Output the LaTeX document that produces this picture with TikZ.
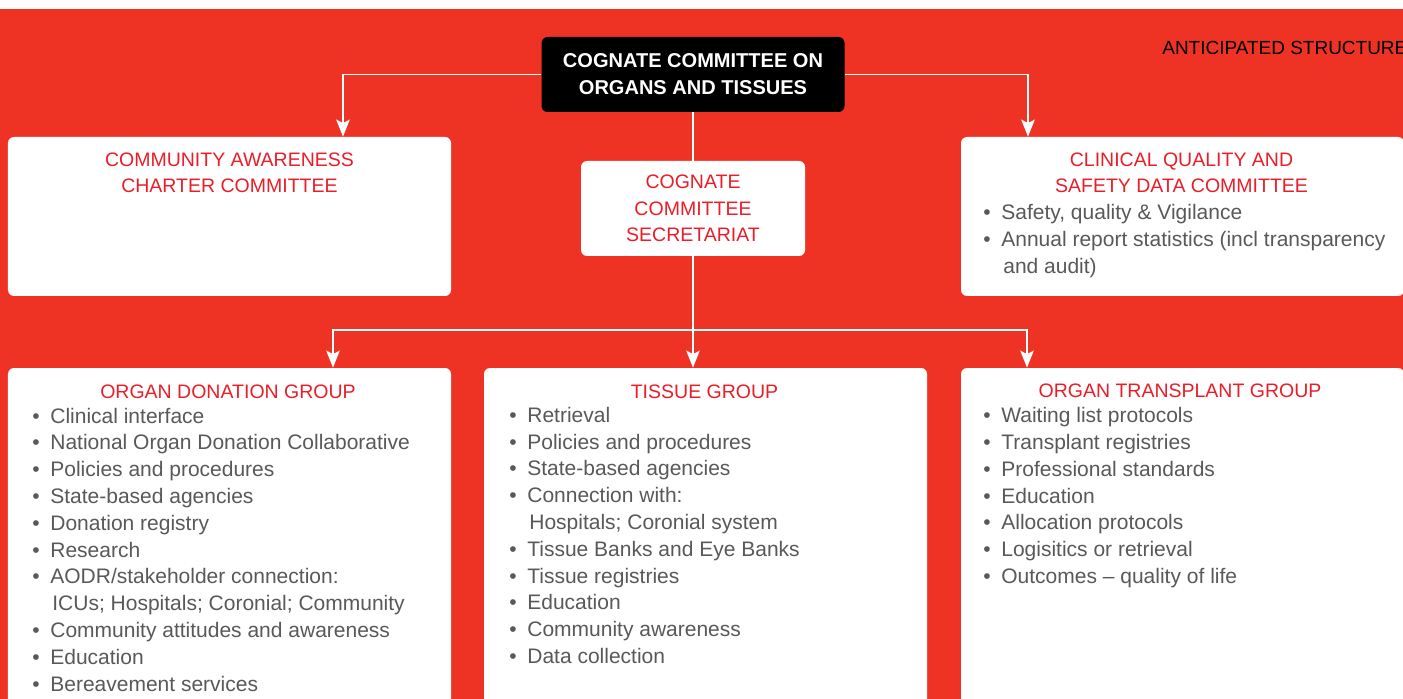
\documentclass[tikz,border=0pt]{standalone}
\usepackage{fontspec}
\setmainfont{Liberation Sans}
\usetikzlibrary{arrows.meta, positioning, calc}
\definecolor{Backdrop}{RGB}{238, 51, 37}
\definecolor{Heading}{RGB}{234, 30, 40}
\definecolor{Body}{RGB}{88, 89, 91}
\newcommand{\itm}{\makebox[0.36cm][l]{\textbullet}}
\newcommand{\cont}{\hspace*{0.40cm}}

\begin{document}
\begin{tikzpicture}[
        panel/.style={rectangle, rounded corners=0.12cm, fill=white, inner sep=0, minimum width=8.86cm},
        heading/.style={anchor=base, align=center, text=Heading, inner sep=0, font=\fontsize{11.1}{14.9}\selectfont},
        items/.style={anchor=base west, align=left, text=Body, inner sep=0, font=\fontsize{11.95}{15.25}\selectfont},
        link/.style={draw=white, line width=1.1pt, -{Stealth[length=0.34cm, width=0.27cm, inset=0.07cm]}},
        plain/.style={draw=white, line width=1.1pt}
    ]
        \useasboundingbox (0,0) rectangle (28.06,-13.98);
        \clip (0,0) rectangle (28.06,-13.98);
        \fill[white] (0,0) rectangle (28.06,-0.18);
        \fill[Backdrop] (0,-0.18) rectangle (28.06,-13.98);

        % base of a text block = baseline of its last line
        \node[anchor=base west, inner sep=0, font=\fontsize{10.8}{13}\selectfont] (note) at (23.24,-1.10) {ANTICIPATED STRUCTURE};

        % Top committee
        \node[fill=black, rounded corners=0.12cm, minimum width=6.06cm, minimum height=1.5cm, align=center, text=white, font=\fontsize{11.4}{15.4}\selectfont\bfseries] (top) at (13.86,-1.49) {COGNATE COMMITTEE ON\\ORGANS AND TISSUES};

        % Second row
        \node[panel, minimum height=3.18cm] (comm) at (4.59,-4.33) {};
        \node[panel, rounded corners=0.12cm, minimum width=4.48cm, minimum height=1.9cm, align=center, text=Heading, font=\fontsize{11.1}{15.1}\selectfont] (sec) at (13.86,-4.17) {COGNATE\\COMMITTEE\\SECRETARIAT};
        \node[panel, minimum height=3.18cm] (clin) at (23.65,-4.33) {};

        \node[heading] (commtitle) at (4.59,-3.86) {COMMUNITY AWARENESS\\CHARTER COMMITTEE};
        \node[heading] (clintitle) at (23.63,-3.86) {CLINICAL QUALITY AND\\SAFETY DATA COMMITTEE};
        \node[items] (clinlist) at (19.66,-5.47) {\itm Safety, quality \& Vigilance\\
            \itm Annual report statistics (incl transparency\\
            \cont and audit)};

        % Groups
        \node[panel, minimum height=7.04cm] (odg) at (4.59,-10.88) {};
        \node[panel, minimum height=7.04cm] (tis) at (14.11,-10.88) {};
        \node[panel, minimum height=7.04cm] (otg) at (23.65,-10.88) {};

        \node[heading] (odgtitle) at (4.56,-7.96) {ORGAN DONATION GROUP};
        \node[items] (odglist) at (0.64,-13.82) {\itm Clinical interface\\
            \itm National Organ Donation Collaborative\\
            \itm Policies and procedures\\
            \itm State-based agencies\\
            \itm Donation registry\\
            \itm Research\\
            \itm AODR/stakeholder connection:\\
            \cont ICUs; Hospitals; Coronial; Community\\
            \itm Community attitudes and awareness\\
            \itm Education\\
            \itm Bereavement services};

        \node[heading] (tistitle) at (14.09,-7.96) {TISSUE GROUP};
        \node[items] (tislist) at (10.18,-13.27) {\itm Retrieval\\
            \itm Policies and procedures\\
            \itm State-based agencies\\
            \itm Connection with:\\
            \cont Hospitals; Coronial system\\
            \itm Tissue Banks and Eye Banks\\
            \itm Tissue registries\\
            \itm Education\\
            \itm Community awareness\\
            \itm Data collection};

        \node[heading] (otgtitle) at (23.6,-7.94) {ORGAN TRANSPLANT GROUP};
        \node[items] (otglist) at (19.66,-11.67) {\itm Waiting list protocols\\
            \itm Transplant registries\\
            \itm Professional standards\\
            \itm Education\\
            \itm Allocation protocols\\
            \itm Logisitics or retrieval\\
            \itm Outcomes -- quality of life};

        % Arrows
        \draw[link] (top.west) -| ([xshift=2.27cm]comm.north);
        \draw[link] (top.east) -| ([xshift=-3.09cm]clin.north);
        \draw[plain] (top) -- (sec);
        \draw[link] (sec) -- (sec |- tis.north);
        \coordinate (bus) at (13.86,-6.6);
        \draw[link] (bus) -| ([xshift=2.07cm]odg.north);
        \draw[link] (bus) -| ([xshift=-3.11cm]otg.north);
    \end{tikzpicture}
\end{document}
